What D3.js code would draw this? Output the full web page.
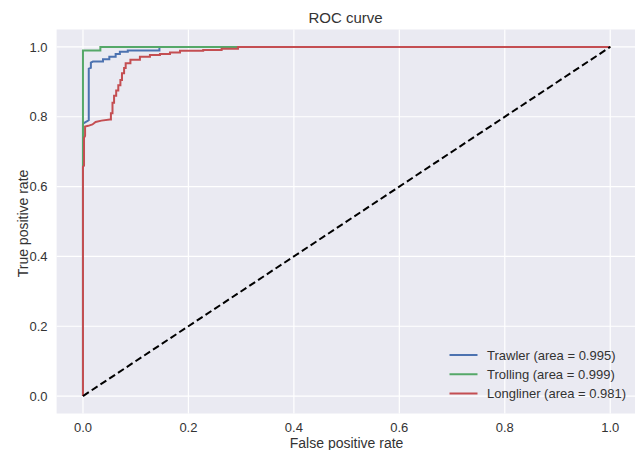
<!DOCTYPE html>
<html>
<head>
<meta charset="utf-8">
<script src="https://cdn.jsdelivr.net/npm/d3@7"></script>
<style>
  html, body { margin: 0; padding: 0; background: #ffffff; }
  svg { display: block; }
  text { font-family: "Liberation Sans", Arial, sans-serif; fill: #333333; }
</style>
</head>
<body>
<svg id="chart" width="635" height="450"></svg>
<script>
// ---- data ----
const seriesNames = ["Trawler", "Trolling", "Longliner"];
const seriesAuc = ["0.995", "0.999", "0.981"];
const seriesColors = ["#4C72B0", "#55A868", "#C44E52"];

const trawlerFpr = [0, 0, 0.004, 0.011, 0.011, 0.015, 0.015, 0.019, 0.038, 0.038, 0.05, 0.05, 0.062, 0.062, 0.07, 0.07, 0.085, 0.085, 0.145, 0.145, 1];
const trawlerTpr = [0, 0.78, 0.784, 0.79, 0.938, 0.94, 0.955, 0.958, 0.958, 0.965, 0.965, 0.972, 0.972, 0.98, 0.98, 0.986, 0.986, 0.99, 0.99, 1, 1];

const trollingFpr = [0, 0, 0.033, 0.033, 1];
const trollingTpr = [0, 0.99, 0.99, 1, 1];

const longlinerFpr = [0, 0, 0.002, 0.002, 0.004, 0.004, 0.01, 0.018, 0.024, 0.035, 0.051, 0.053, 0.053, 0.056, 0.056, 0.059, 0.059, 0.063, 0.063, 0.067, 0.067, 0.071, 0.071, 0.074, 0.074, 0.078, 0.078, 0.081, 0.081, 0.09, 0.09, 0.108, 0.108, 0.127, 0.127, 0.146, 0.146, 0.165, 0.165, 0.184, 0.184, 0.228, 0.228, 0.263, 0.263, 0.294, 0.294, 1];
const longlinerTpr = [0, 0.657, 0.66, 0.74, 0.745, 0.772, 0.774, 0.778, 0.785, 0.789, 0.792, 0.792, 0.81, 0.81, 0.84, 0.84, 0.86, 0.86, 0.875, 0.875, 0.89, 0.89, 0.905, 0.905, 0.925, 0.925, 0.94, 0.94, 0.953, 0.953, 0.963, 0.963, 0.972, 0.972, 0.977, 0.977, 0.98, 0.98, 0.984, 0.984, 0.989, 0.989, 0.991, 0.991, 0.995, 0.995, 1, 1];

const diagX = [0, 1];
const diagY = [0, 1];

const xTicks = [0, 0.2, 0.4, 0.6, 0.8, 1.0];
const yTicks = [0, 0.2, 0.4, 0.6, 0.8, 1.0];
const xTickLabels = ["0.0", "0.2", "0.4", "0.6", "0.8", "1.0"];
const yTickLabels = ["0.0", "0.2", "0.4", "0.6", "0.8", "1.0"];

const titleText = "ROC curve";
const xLabelText = "False positive rate";
const yLabelText = "True positive rate";

// ---- layout ----
const plotLeft = 56.6, plotRight = 636.6, plotTop = 29.5, plotBottom = 413.5;

const svg = d3.select("#chart");
const x = d3.scaleLinear().domain([-0.05, 1.05]).range([plotLeft, plotRight]);
const y = d3.scaleLinear().domain([-0.05, 1.05]).range([plotBottom, plotTop]);

// background
svg.append("rect")
  .attr("x", plotLeft).attr("y", plotTop)
  .attr("width", plotRight - plotLeft).attr("height", plotBottom - plotTop)
  .attr("fill", "#EAEAF2");

// grid
const grid = svg.append("g");
grid.selectAll("line.gx").data(xTicks).enter().append("line")
  .attr("x1", d => x(d)).attr("x2", d => x(d))
  .attr("y1", plotTop).attr("y2", plotBottom)
  .attr("stroke", "#ffffff").attr("stroke-width", 1.2);
grid.selectAll("line.gy").data(yTicks).enter().append("line")
  .attr("y1", d => y(d)).attr("y2", d => y(d))
  .attr("x1", plotLeft).attr("x2", plotRight)
  .attr("stroke", "#ffffff").attr("stroke-width", 1.2);

// tick labels
svg.append("g").selectAll("text").data(xTicks).enter().append("text")
  .attr("x", d => x(d)).attr("y", 432)
  .attr("text-anchor", "middle").attr("font-size", "13px")
  .text((d, i) => xTickLabels[i]);
svg.append("g").selectAll("text").data(yTicks).enter().append("text")
  .attr("x", 47.5).attr("y", d => y(d) + 4.6)
  .attr("text-anchor", "end").attr("font-size", "13px")
  .text((d, i) => yTickLabels[i]);

// titles
svg.append("text").attr("x", (plotLeft + plotRight) / 2 - 1).attr("y", 23)
  .attr("text-anchor", "middle").attr("font-size", "15px").text(titleText);
svg.append("text").attr("x", (plotLeft + plotRight) / 2).attr("y", 447.5)
  .attr("text-anchor", "middle").attr("font-size", "14px").text(xLabelText);
svg.append("text")
  .attr("transform", `translate(28,${(plotTop + plotBottom) / 2 + 2}) rotate(-90)`)
  .attr("text-anchor", "middle").attr("font-size", "14px").text(yLabelText);

// curves
const line = d3.line().x(d => x(d[0])).y(d => y(d[1]));
const series = [
  d3.zip(trawlerFpr, trawlerTpr),
  d3.zip(trollingFpr, trollingTpr),
  d3.zip(longlinerFpr, longlinerTpr)
];
const plotG = svg.append("g");
series.forEach((pts, i) => {
  plotG.append("path").datum(pts)
    .attr("d", line)
    .attr("fill", "none")
    .attr("stroke", seriesColors[i])
    .attr("stroke-width", 2)
    .attr("stroke-linejoin", "miter");
});
plotG.append("path").datum(d3.zip(diagX, diagY))
  .attr("d", line)
  .attr("fill", "none")
  .attr("stroke", "#000000")
  .attr("stroke-width", 2)
  .attr("stroke-dasharray", "7,3.5");

// legend
const legend = svg.append("g");
const legendY = d3.scalePoint().domain(seriesNames).range([355, 393.5]);
seriesNames.forEach((name, i) => {
  const ly = legendY(name);
  legend.append("line")
    .attr("x1", 449.5).attr("x2", 477.5)
    .attr("y1", ly).attr("y2", ly)
    .attr("stroke", seriesColors[i]).attr("stroke-width", 2);
  legend.append("text")
    .attr("x", 487).attr("y", ly + 4.6)
    .attr("font-size", "13px")
    .text(`${name} (area = ${seriesAuc[i]})`);
});
</script>
</body>
</html>
